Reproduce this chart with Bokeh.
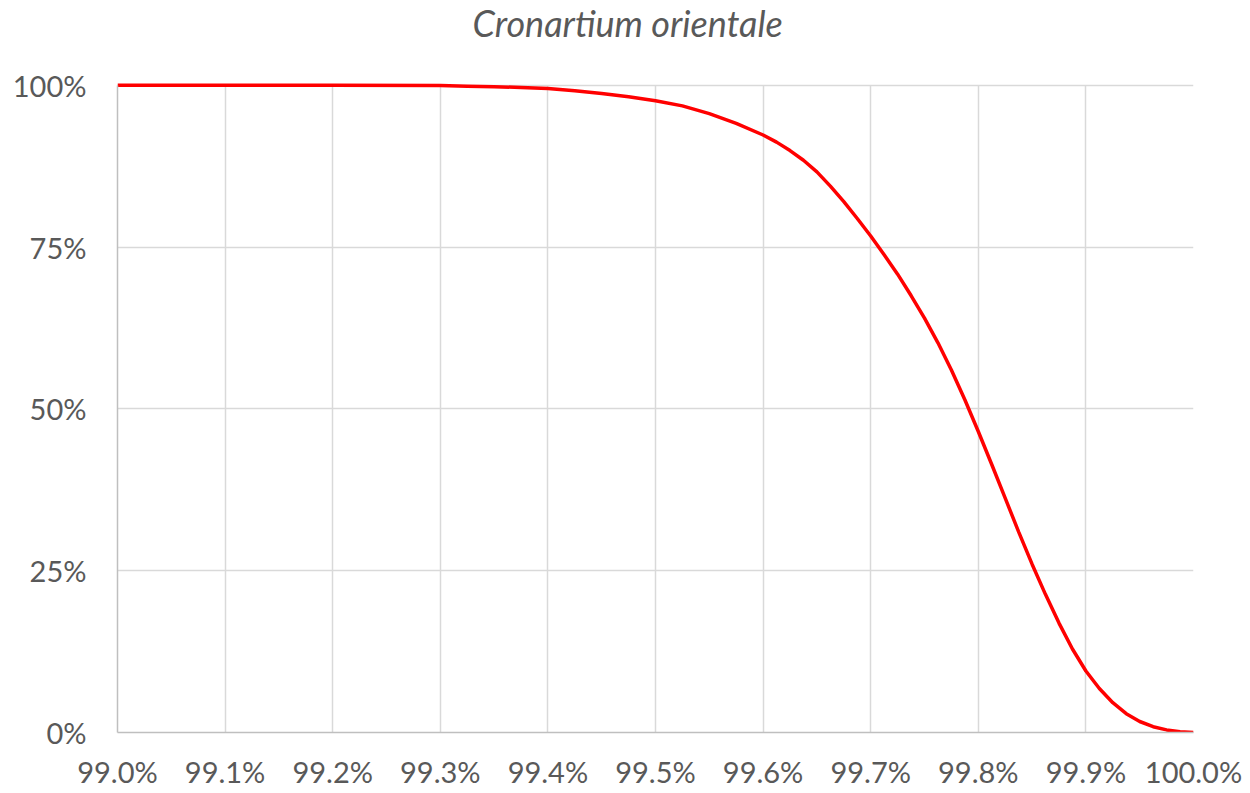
from bokeh.plotting import figure
from bokeh.models import FixedTicker, PrintfTickFormatter, Range1d, Label
from bokeh.embed import file_html
from bokeh.resources import INLINE

title_text = "Cronartium orientale"
x_vals = [99.0, 99.1, 99.2, 99.3, 99.325, 99.35, 99.375, 99.4, 99.425, 99.45, 99.475,
          99.5, 99.525, 99.55, 99.575, 99.6, 99.6125, 99.625, 99.6375, 99.65, 99.6625,
          99.675, 99.6875, 99.7, 99.7125, 99.725, 99.7375, 99.75, 99.7625, 99.775,
          99.7875, 99.8, 99.8125, 99.825, 99.8375, 99.85, 99.8625, 99.875, 99.8875,
          99.9, 99.9125, 99.925, 99.9375, 99.95, 99.9625, 99.975, 99.9875, 100.0]
y_vals = [100.0, 100.0, 100.0, 99.95, 99.85, 99.75, 99.65, 99.5, 99.15, 98.7, 98.2,
          97.6, 96.8, 95.6, 94.1, 92.3, 91.2, 89.9, 88.4, 86.6, 84.4,
          82.0, 79.4, 76.7, 73.8, 70.8, 67.5, 64.0, 60.2, 56.0,
          51.4, 46.5, 41.4, 36.2, 31.0, 26.0, 21.3, 16.9, 12.9,
          9.5, 6.8, 4.6, 2.9, 1.7, 0.9, 0.4, 0.1, 0.0]
x_ticks = [99.0, 99.1, 99.2, 99.3, 99.4, 99.5, 99.6, 99.7, 99.8, 99.9, 100.0]
y_ticks = [0, 25, 50, 75, 100]

FONT = "Lato"
GREY = "#595959"
GRID = "#D9D9D9"
Y_MIN, Y_MAX = 0, 100
X_MIN, X_MAX = 99.0, 100.0

# plot area 650 px tall for 0..100; the frame extends 80 px higher to hold the title
TOP_PAD = 80
y_top = Y_MAX + (Y_MAX - Y_MIN) * TOP_PAD / 650.0

p = figure(width=1243, height=791, output_backend="svg", toolbar_location=None,
           x_range=Range1d(X_MIN, X_MAX), y_range=Range1d(Y_MIN, y_top),
           min_border_left=117, min_border_right=50, min_border_top=5, min_border_bottom=56)
p.outline_line_color = None
p.background_fill_color = "white"
p.border_fill_color = "white"

p.add_layout(Label(x=X_MIN, y=Y_MAX, x_offset=355, y_offset=62, text=title_text,
                   text_font=FONT, text_font_style="italic", text_font_size="36px",
                   text_color=GREY, text_align="left", text_baseline="alphabetic"))

p.xaxis.ticker = FixedTicker(ticks=x_ticks)
p.yaxis.ticker = FixedTicker(ticks=y_ticks)
p.xaxis.formatter = PrintfTickFormatter(format="%.1f%%")
p.yaxis.formatter = PrintfTickFormatter(format="%d%%")
p.yaxis.bounds = (Y_MIN, Y_MAX)
for ax in (p.xaxis, p.yaxis):
    ax.major_tick_line_color = None
    ax.minor_tick_line_color = None
    ax.axis_line_color = "#BFBFBF"
    ax.axis_line_width = 1.5
    ax.major_label_text_font = FONT
    ax.major_label_text_font_size = "29px"
    ax.major_label_text_color = GREY
p.xaxis.major_label_standoff = 15
p.yaxis.major_label_standoff = 25

p.ygrid.grid_line_color = GRID
p.ygrid.grid_line_width = 1.5
p.xgrid.grid_line_color = GRID
p.xgrid.grid_line_width = 1.5
try:
    p.xgrid.cross_bounds = (Y_MIN, Y_MAX)
except AttributeError:
    p.xgrid.grid_line_color = None
    p.segment(x0=x_ticks, y0=[Y_MIN] * len(x_ticks), x1=x_ticks, y1=[Y_MAX] * len(x_ticks),
              line_color=GRID, line_width=1.5)

p.line(x_vals, y_vals, line_color="#FF0000", line_width=3.5)

open("out.html", "w").write(file_html(p, INLINE))
